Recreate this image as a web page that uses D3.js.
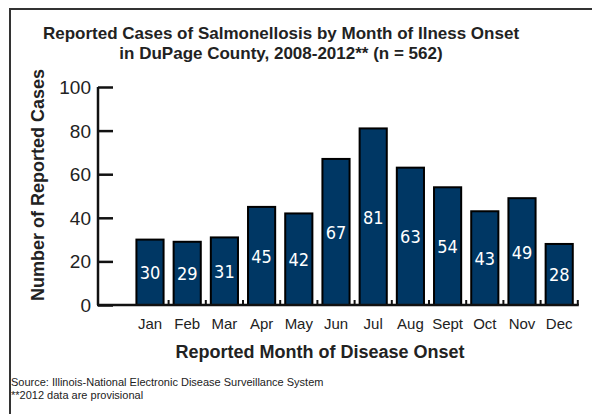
<!DOCTYPE html>
<html>
<head>
<meta charset="utf-8">
<script src="https://cdn.jsdelivr.net/npm/d3@7"></script>
<style>
  body { margin: 0; background: #fff; }
  svg { display: block; }
</style>
</head>
<body>
<svg width="592" height="414"></svg>
<script>
// values
const months = ['Jan', 'Feb', 'Mar', 'Apr', 'May', 'Jun', 'Jul', 'Aug', 'Sept', 'Oct', 'Nov', 'Dec'];
const cases = [30, 29, 31, 45, 42, 67, 81, 63, 54, 43, 49, 28];
const yTicks = [0, 20, 40, 60, 80, 100];

const svg = d3.select('svg');

// outer frame, runs off right and bottom edge
svg.append('rect')
  .attr('x', 10).attr('y', 9)
  .attr('width', 600).attr('height', 420)
  .attr('fill', 'none').attr('stroke', '#333').attr('stroke-width', 2);

// title
const title = svg.append('text')
  .attr('text-anchor', 'middle')
  .attr('font-family', 'Liberation Sans, Arial, sans-serif')
  .attr('font-weight', 'bold')
  .attr('font-size', 17)
  .attr('fill', '#222');
title.append('tspan').attr('x', 281).attr('y', 39)
  .text('Reported Cases of Salmonellosis by Month of Ilness Onset');
title.append('tspan').attr('x', 281).attr('y', 59)
  .text('in DuPage County, 2008-2012** (n = 562)');

const x = d3.scaleBand()
  .domain(months)
  .range([131.4, 577.8])
  .paddingInner(0.27)
  .paddingOuter(0.135);

const y = d3.scaleLinear()
  .domain([0, 100])
  .range([305, 87]);

// bars
svg.selectAll('rect.bar')
  .data(cases)
  .enter()
  .append('rect')
  .attr('class', 'bar')
  .attr('x', (d, i) => x(months[i]))
  .attr('y', d => y(d))
  .attr('width', x.bandwidth())
  .attr('height', d => y(0) - y(d))
  .attr('fill', '#003764')
  .attr('stroke', '#000')
  .attr('stroke-width', 2);

// value labels in the middle of each bar
svg.selectAll('text.val')
  .data(cases)
  .enter()
  .append('text')
  .attr('class', 'val')
  .attr('x', (d, i) => x(months[i]) + x.bandwidth() / 2)
  .attr('y', d => (y(d) + y(0)) / 2 + 7)
  .attr('text-anchor', 'middle')
  .attr('font-family', 'Liberation Sans Narrow, DejaVu Sans Condensed, sans-serif')
  .attr('font-size', 18)
  .attr('fill', '#fff')
  .text(d => d);

// y axis
const yAxis = svg.append('g')
  .attr('transform', 'translate(98,0)')
  .call(d3.axisRight(y).tickValues(yTicks).tickSize(15).tickFormat(''));
yAxis.select('.domain').attr('stroke', '#111').attr('stroke-width', 2.5).attr('d', 'M0,87V305');
yAxis.selectAll('.tick line').attr('stroke', '#111').attr('stroke-width', 2.5);

svg.selectAll('text.ytick')
  .data(yTicks)
  .enter()
  .append('text')
  .attr('class', 'ytick')
  .attr('x', 91)
  .attr('y', d => y(d) + 7)
  .attr('text-anchor', 'end')
  .attr('font-family', 'Liberation Sans, Arial, sans-serif')
  .attr('font-size', 19)
  .attr('fill', '#222')
  .text(d => d);

// x baseline
svg.append('line')
  .attr('x1', 97).attr('x2', x.range()[1] + 1)
  .attr('y1', y(0)).attr('y2', y(0))
  .attr('stroke', '#111').attr('stroke-width', 2.5);

// small ticks at band boundaries
const bounds = months.map((m, i) => x(m) + x.bandwidth() + x.step() * x.paddingInner() / 2);
svg.selectAll('line.xtick')
  .data(bounds)
  .enter()
  .append('line')
  .attr('class', 'xtick')
  .attr('x1', d => d).attr('x2', d => d)
  .attr('y1', y(0)).attr('y2', y(0) - 5)
  .attr('stroke', '#111').attr('stroke-width', 2);

// month labels
svg.selectAll('text.xlab')
  .data(months)
  .enter()
  .append('text')
  .attr('class', 'xlab')
  .attr('x', d => x(d) + x.bandwidth() / 2)
  .attr('y', 329)
  .attr('text-anchor', 'middle')
  .attr('font-family', 'Liberation Sans, Arial, sans-serif')
  .attr('font-size', 15)
  .attr('fill', '#222')
  .text(d => d);

// axis titles
svg.append('text')
  .attr('x', 320).attr('y', 358)
  .attr('text-anchor', 'middle')
  .attr('font-family', 'Liberation Sans, Arial, sans-serif')
  .attr('font-weight', 'bold')
  .attr('font-size', 18)
  .attr('fill', '#222')
  .text('Reported Month of Disease Onset');

svg.append('text')
  .attr('transform', 'translate(44,185) rotate(-90)')
  .attr('text-anchor', 'middle')
  .attr('font-family', 'Liberation Sans, Arial, sans-serif')
  .attr('font-weight', 'bold')
  .attr('font-size', 18)
  .attr('fill', '#222')
  .text('Number of Reported Cases');

// source notes
const notes = ['Source: Illinois-National Electronic Disease Surveillance System', '**2012 data are provisional'];
svg.selectAll('text.note')
  .data(notes)
  .enter()
  .append('text')
  .attr('class', 'note')
  .attr('x', 11)
  .attr('y', (d, i) => 386 + i * 13)
  .attr('font-family', 'Liberation Sans, Arial, sans-serif')
  .attr('font-size', 11)
  .attr('fill', '#222')
  .text(d => d);
</script>
</body>
</html>
